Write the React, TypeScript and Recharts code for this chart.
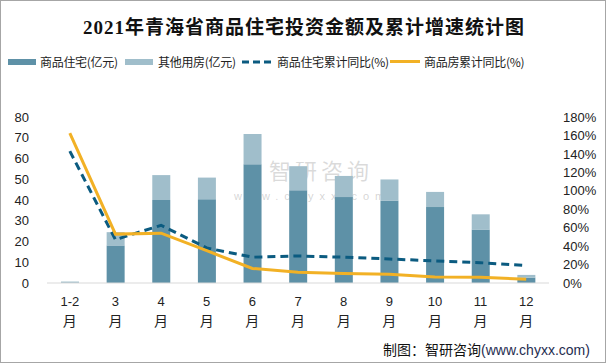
import React from "react";
import { ComposedChart, Bar, Line, XAxis, YAxis, Legend } from "recharts";

const categories = ["1-2", "3", "4", "5", "6", "7", "8", "9", "10", "11", "12"];
const residential = [0.3, 18.1, 40.0, 40.4, 57.2, 44.7, 41.4, 39.6, 36.6, 25.8, 2.6];
const otherUse = [0.4, 6.4, 12.0, 10.4, 14.6, 11.6, 10.2, 10.3, 7.3, 7.3, 1.3];
const residentialGrowth = [143, 47, 62.6, 38, 28, 29.3, 28, 26, 24, 22, 19];
const housingGrowth = [162.6, 53, 54, 35, 15.8, 11.6, 10.3, 9.4, 6.5, 6.1, 4.2];
const leftTicks = [0, 10, 20, 30, 40, 50, 60, 70, 80];
const rightTicks = [0, 20, 40, 60, 80, 100, 120, 140, 160, 180];

const data = categories.map((c, i) => ({
  name: c,
  res: residential[i],
  other: otherUse[i],
  resG: residentialGrowth[i],
  houseG: housingGrowth[i],
}));

const C_RES = "#5E91A7";
const C_OTHER = "#A0BECB";
const C_DASH = "#0B5B80";
const C_YELLOW = "#F2B125";
const CJK = "'Noto Sans CJK SC', 'Liberation Sans', sans-serif";
const NUM = "'Liberation Sans', 'Noto Sans CJK SC', sans-serif";

const XTick = (props: any) => {
  const { x, y, payload } = props;
  return (
    <g>
      <text x={x} y={y + 15} textAnchor="middle" fontSize={13} fontFamily={NUM} fill="#222">
        {payload.value}
      </text>
      <text x={x} y={y + 35} textAnchor="middle" fontSize={14} fontFamily={CJK} fill="#222">
        月
      </text>
    </g>
  );
};

const legendItems = [
  { label: "商品住宅(亿元)", type: "bar", color: C_RES, x: 8, tx: 40 },
  { label: "其他用房(亿元)", type: "bar", color: C_OTHER, x: 125, tx: 158 },
  { label: "商品住宅累计同比(%)", type: "dash", color: C_DASH, x: 242, tx: 277 },
  { label: "商品房累计同比(%)", type: "line", color: C_YELLOW, x: 390, tx: 424 },
];

const LegendContent = () => (
  <div style={{ position: "relative", width: 606, height: 20 }}>
    {legendItems.map((it) => (
      <React.Fragment key={it.label}>
        {it.type === "bar" && (
          <div style={{ position: "absolute", left: it.x, top: 7, width: 28, height: 6, background: it.color }} />
        )}
        {it.type === "dash" && (
          <svg style={{ position: "absolute", left: it.x, top: 6 }} width={30} height={8}>
            <line x1={0} y1={4} x2={30} y2={4} stroke={it.color} strokeWidth={3} strokeDasharray="7 4" />
          </svg>
        )}
        {it.type === "line" && (
          <div style={{ position: "absolute", left: it.x, top: 8, width: 30, height: 3, background: it.color }} />
        )}
        <span
          style={{
            position: "absolute",
            left: it.tx,
            top: 0,
            fontSize: 12,
            fontFamily: CJK,
            color: "#222",
            whiteSpace: "nowrap",
            lineHeight: "20px",
            letterSpacing: -0.3,
          }}
        >
          {it.label}
        </span>
      </React.Fragment>
    ))}
  </div>
);

export default function App() {
  return (
    <div
      style={{
        position: "absolute",
        left: 0,
        top: 0,
        width: 606,
        height: 363,
        background: "#fff",
        boxSizing: "border-box",
        border: "1px solid #A6A6A6",
        overflow: "hidden",
      }}
    >
      <div
        style={{
          position: "absolute",
          left: 0,
          top: 11,
          width: 606,
          textAlign: "center",
          fontSize: 19,
          fontWeight: "bold",
          fontFamily: "'Liberation Serif', 'Noto Sans CJK SC', serif",
          color: "#111",
          letterSpacing: 1,
        }}
      >
        2021年青海省商品住宅投资金额及累计增速统计图
      </div>
      <div
        style={{
          position: "absolute",
          left: 268,
          top: 154,
          fontSize: 22,
          lineHeight: "28px",
          fontFamily: CJK,
          color: "rgba(150,150,150,0.35)",
          letterSpacing: 4,
        }}
      >
        智研咨询
      </div>
      <div
        style={{
          position: "absolute",
          left: 233,
          top: 188,
          fontSize: 11,
          lineHeight: "14px",
          fontFamily: NUM,
          color: "rgba(150,150,150,0.4)",
          letterSpacing: 6,
        }}
      >
        www.chyxx.com
      </div>
      <div style={{ position: "absolute", left: -1, top: -1 }}>
        <ComposedChart
          width={606}
          height={363}
          data={data}
          margin={{ top: 97, right: 0, bottom: 0, left: 0 }}
        >
          <Legend
            verticalAlign="top"
            content={<LegendContent />}
            wrapperStyle={{ top: 52, left: 0, width: 606 }}
          />
          <XAxis
            dataKey="name"
            height={80}
            tickLine={false}
            axisLine={{ stroke: "#D9D9D9" }}
            tick={<XTick />}
            interval={0}
          />
          <YAxis
            yAxisId="left"
            width={47}
            domain={[0, 80]}
            ticks={leftTicks}
            interval={0}
            axisLine={false}
            tickLine={false}
            tickMargin={12}
            tick={{ fontSize: 13, fill: "#222", fontFamily: NUM }}
          />
          <YAxis
            yAxisId="right"
            orientation="right"
            width={57}
            domain={[0, 180]}
            ticks={rightTicks}
            interval={0}
            axisLine={false}
            tickLine={false}
            tickMargin={8}
            tickFormatter={(v: number) => `${v}%`}
            tick={{ fontSize: 13, fill: "#222", fontFamily: NUM }}
          />
          <Bar yAxisId="left" dataKey="res" stackId="a" fill={C_RES} barSize={18} isAnimationActive={false} />
          <Bar yAxisId="left" dataKey="other" stackId="a" fill={C_OTHER} barSize={18} isAnimationActive={false} />
          <Line
            yAxisId="right"
            dataKey="resG"
            stroke={C_DASH}
            strokeWidth={3}
            strokeDasharray="8 5"
            dot={false}
            type="linear"
            isAnimationActive={false}
          />
          <Line
            yAxisId="right"
            dataKey="houseG"
            stroke={C_YELLOW}
            strokeWidth={3}
            dot={false}
            type="linear"
            isAnimationActive={false}
          />
        </ComposedChart>
      </div>
      <div
        style={{
          position: "absolute",
          left: 382,
          top: 338,
          fontSize: 14,
          fontFamily: CJK,
          color: "#111",
          whiteSpace: "nowrap",
        }}
      >
        制图：智研咨询<span style={{ fontFamily: NUM, color: "#1F2D50" }}>(www.chyxx.com)</span>
      </div>
    </div>
  );
}
